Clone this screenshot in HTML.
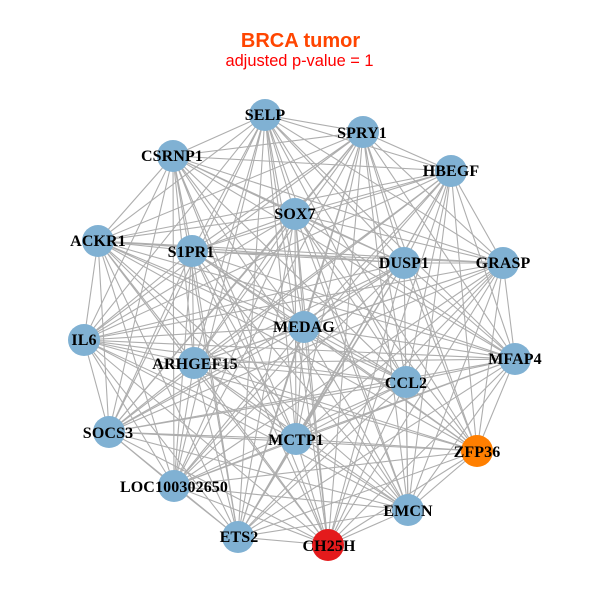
<!DOCTYPE html>
<html><head><meta charset="utf-8"><style>
html,body{margin:0;padding:0;background:#fff}
svg{display:block}
polyline{fill:none}
.n{font:bold 16px "Liberation Serif",serif;letter-spacing:.12px;text-anchor:middle;fill:#000}
</style></head><body>
<svg width="600" height="600" viewBox="0 0 600 600" xmlns="http://www.w3.org/2000/svg">
<g stroke="#aeaeae" stroke-width="1.1" fill="none">
<polyline points="265 115 363 132 265 115 173 156 265 115 451 171 265 115 295 214 265 115 98 241 265 115 192 251 265 115 404 263 265 115 503 263 265 115 84 340 265 115 304 327 265 115 194 363 265 115 515 359 265 115 406 382 265 115 109 432 265 115 296 439 265 115 477 451 265 115 174 486 265 115 408 510 265 115 238 537 265 115 328 545"/>
<polyline points="363 132 173 156 363 132 451 171 363 132 295 214 363 132 98 241 363 132 192 251 363 132 404 263 363 132 503 263 363 132 84 340 363 132 304 327 363 132 194 363 363 132 515 359 363 132 406 382 363 132 109 432 363 132 296 439 363 132 477 451 363 132 174 486 363 132 408 510 363 132 238 537 363 132 328 545"/>
<polyline points="173 156 451 171 173 156 295 214 173 156 98 241 173 156 192 251 173 156 404 263 173 156 503 263 173 156 84 340 173 156 304 327 173 156 194 363 173 156 515 359 173 156 406 382 173 156 109 432 173 156 296 439 173 156 477 451 173 156 174 486 173 156 408 510 173 156 238 537 173 156 328 545"/>
<polyline points="451 171 295 214 451 171 98 241 451 171 192 251 451 171 404 263 451 171 503 263 451 171 84 340 451 171 304 327 451 171 194 363 451 171 515 359 451 171 406 382 451 171 109 432 451 171 296 439 451 171 477 451 451 171 174 486 451 171 408 510 451 171 238 537 451 171 328 545"/>
<polyline points="295 214 98 241 295 214 192 251 295 214 404 263 295 214 503 263 295 214 84 340 295 214 304 327 295 214 194 363 295 214 515 359 295 214 406 382 295 214 109 432 295 214 296 439 295 214 477 451 295 214 174 486 295 214 408 510 295 214 238 537 295 214 328 545"/>
<polyline points="98 241 192 251 98 241 404 263 98 241 503 263 98 241 84 340 98 241 304 327 98 241 194 363 98 241 515 359 98 241 406 382 98 241 109 432 98 241 296 439 98 241 477 451 98 241 174 486 98 241 408 510 98 241 238 537 98 241 328 545"/>
<polyline points="192 251 404 263 192 251 503 263 192 251 84 340 192 251 304 327 192 251 194 363 192 251 515 359 192 251 406 382 192 251 109 432 192 251 296 439 192 251 477 451 192 251 174 486 192 251 408 510 192 251 238 537 192 251 328 545"/>
<polyline points="404 263 503 263 404 263 84 340 404 263 304 327 404 263 194 363 404 263 515 359 404 263 406 382 404 263 109 432 404 263 296 439 404 263 477 451 404 263 174 486 404 263 408 510 404 263 238 537 404 263 328 545"/>
<polyline points="503 263 84 340 503 263 304 327 503 263 194 363 503 263 515 359 503 263 406 382 503 263 109 432 503 263 296 439 503 263 477 451 503 263 174 486 503 263 408 510 503 263 238 537 503 263 328 545"/>
<polyline points="84 340 304 327 84 340 194 363 84 340 515 359 84 340 406 382 84 340 109 432 84 340 296 439 84 340 477 451 84 340 174 486 84 340 408 510 84 340 238 537 84 340 328 545"/>
<polyline points="304 327 194 363 304 327 515 359 304 327 406 382 304 327 109 432 304 327 296 439 304 327 477 451 304 327 174 486 304 327 408 510 304 327 238 537 304 327 328 545"/>
<polyline points="194 363 515 359 194 363 406 382 194 363 109 432 194 363 296 439 194 363 477 451 194 363 174 486 194 363 408 510 194 363 238 537 194 363 328 545"/>
<polyline points="515 359 406 382 515 359 109 432 515 359 296 439 515 359 477 451 515 359 174 486 515 359 408 510 515 359 238 537 515 359 328 545"/>
<polyline points="406 382 109 432 406 382 296 439 406 382 477 451 406 382 174 486 406 382 408 510 406 382 238 537 406 382 328 545"/>
<polyline points="109 432 296 439 109 432 477 451 109 432 174 486 109 432 408 510 109 432 238 537 109 432 328 545"/>
<polyline points="296 439 477 451 296 439 174 486 296 439 408 510 296 439 238 537 296 439 328 545"/>
<polyline points="477 451 174 486 477 451 408 510 477 451 238 537 477 451 328 545"/>
<polyline points="174 486 408 510 174 486 238 537 174 486 328 545"/>
<polyline points="408 510 238 537 408 510 328 545"/>
<polyline points="238 537 328 545"/>
</g>
<g fill="#80b1d3">
<circle cx="265" cy="115" r="16"/><circle cx="363" cy="132" r="16"/><circle cx="173" cy="156" r="16"/><circle cx="451" cy="171" r="16"/><circle cx="295" cy="214" r="16"/><circle cx="98" cy="241" r="16"/><circle cx="192" cy="251" r="16"/><circle cx="404" cy="263" r="16"/><circle cx="503" cy="263" r="16"/><circle cx="84" cy="340" r="16"/><circle cx="304" cy="327" r="16"/><circle cx="194" cy="363" r="16"/><circle cx="515" cy="359" r="16"/><circle cx="406" cy="382" r="16"/><circle cx="109" cy="432" r="16"/><circle cx="296" cy="439" r="16"/><circle cx="174" cy="486" r="16"/><circle cx="408" cy="510" r="16"/><circle cx="238" cy="537" r="16"/>
</g>
<circle cx="477" cy="451" r="16" fill="#ff7f00"/>
<circle cx="328" cy="545" r="16" fill="#e41a1c"/>
<g class="labels">
<text class="n" x="265" y="120">SELP</text>
<text class="n" x="362" y="138">SPRY1</text>
<text class="n" x="172" y="161">CSRNP1</text>
<text class="n" x="451" y="176">HBEGF</text>
<text class="n" x="295" y="219">SOX7</text>
<text class="n" x="98" y="246">ACKR1</text>
<text class="n" x="191" y="257">S1PR1</text>
<text class="n" x="404" y="268">DUSP1</text>
<text class="n" x="503" y="268">GRASP</text>
<text class="n" x="84" y="345">IL6</text>
<text class="n" x="304" y="332">MEDAG</text>
<text class="n" x="195" y="369">ARHGEF15</text>
<text class="n" x="515" y="364">MFAP4</text>
<text class="n" x="406" y="388">CCL2</text>
<text class="n" x="108" y="438">SOCS3</text>
<text class="n" x="296" y="445">MCTP1</text>
<text class="n" x="477" y="457">ZFP36</text>
<text class="n" x="174" y="492">LOC100302650</text>
<text class="n" x="408" y="516">EMCN</text>
<text class="n" x="239" y="542">ETS2</text>
<text class="n" x="329" y="551">CH25H</text>
</g>
<text x="300.500" y="47" text-anchor="middle" style="font:bold 20px 'Liberation Sans',sans-serif" fill="#ff4500">BRCA tumor</text>
<text x="299.500" y="66" text-anchor="middle" style="font:16.400px 'Liberation Sans',sans-serif" fill="#ff0000">adjusted p-value = 1</text>
</svg>
</body></html>
